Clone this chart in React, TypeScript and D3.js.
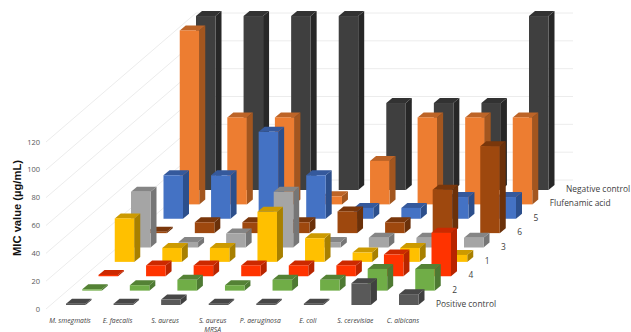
import React from "react";
import * as d3 from "d3";

const categories = ["M. smegmatis", "E. faecalis", "S. aureus", "S. aureus\nMRSA", "P. aeruginosa", "E. coli", "S. cerevisiae", "C. albicans"];
const seriesNames = ["Positive control", "2", "4", "1", "3", "6", "5", "Flufenamic acid", "Negative control"];
const yTicks = [0, 20, 40, 60, 80, 100, 120];

const positiveControl = [0.98, 0.98, 3.9, 0.98, 0.98, 0.98, 15.6, 7.8];
const compound2 = [0.98, 3.9, 7.8, 3.9, 7.8, 7.8, 15.6, 15.6];
const compound4 = [0.98, 7.8, 7.8, 7.8, 7.8, 7.8, 15.6, 31.25];
const compound1 = [31.25, 10, 10, 36, 17, 6.7, 10, 5];
const compound3 = [40, 4, 10, 40, 3.9, 7, 7, 7];
const compound6 = [0.98, 7.8, 7.8, 7.8, 15.6, 7.8, 31.25, 62.5];
const compound5 = [31.25, 31.25, 62.5, 31.25, 7.8, 7.8, 15.6, 15.6];
const flufenamicAcid = [125, 62.5, 62.5, 5.8, 31.25, 62.5, 62.5, 62.5];
const negativeControl = [125, 125, 125, 125, 62.5, 62.5, 62.5, 125];

const seriesValues = [positiveControl, compound2, compound4, compound1, compound3, compound6, compound5, flufenamicAcid, negativeControl];

// front, top and side face colours for each series
const frontColors = ["#595959", "#70ad47", "#ff3300", "#ffc000", "#a5a5a5", "#9e480e", "#4472c4", "#ed7d31", "#3f3f3f"];
const topColors = ["#474747", "#548235", "#cc2900", "#cc9a00", "#858585", "#7a370b", "#35599c", "#bd6427", "#323232"];
const sideColors = ["#404040", "#4e7a33", "#b82500", "#a88000", "#767676", "#6b310a", "#2c4f8c", "#a3561f", "#272727"];

const BAR_W = 19.5;
const DEPTH_X = 6;
const DEPTH_Y = 5;

const xCat = d3.scaleLinear().domain([0, 7]).range([0, 333]);
const rowX = d3.scaleLinear().domain([0, 8]).range([66, 196]);
const rowBase = d3.scaleLinear().domain([0, 8]).range([305, 190]);
const hScale = d3.scaleLinear().domain([0, 120]).range([0, 167]);

const wallX = d3.scaleLinear().domain([0, 1]).range([46, 196]);
const wallY0 = d3.scaleLinear().domain([0, 1]).range([309, 180]);
const wallRight = 573;

const pts = (p: number[][]) => p.map((q) => q.join(",")).join(" ");

function Bar({ row, cat }: { row: number; cat: number }) {
  const x = rowX(row) + xCat(cat);
  const base = rowBase(row);
  const top = base - hScale(seriesValues[row][cat]);
  const right = x + BAR_W;
  return (
    <g>
      <polygon
        points={pts([[right, base], [right + DEPTH_X, base - DEPTH_Y], [right + DEPTH_X, top - DEPTH_Y], [right, top]])}
        fill={sideColors[row]}
      />
      <polygon
        points={pts([[x, top], [right, top], [right + DEPTH_X, top - DEPTH_Y], [x + DEPTH_X, top - DEPTH_Y]])}
        fill={topColors[row]}
      />
      <rect x={x} y={top} width={BAR_W} height={base - top} fill={frontColors[row]} />
    </g>
  );
}

export default function App() {
  const rows = d3.range(seriesNames.length).reverse();
  return (
    <svg
      width={631}
      height={332}
      viewBox="0 0 631 332"
      style={{ position: "absolute", left: 0, top: 0, background: "#fff" }}
    >
      {/* gridlines on the side and back walls */}
      <g stroke="#ececec" strokeWidth={1} fill="none">
        {yTicks.map((t) => {
          const h = hScale(t);
          return (
            <polyline
              key={t}
              points={pts([[wallX(0), wallY0(0) - h], [wallX(1), wallY0(1) - h], [wallRight, wallY0(1) - h]])}
            />
          );
        })}
      </g>

      {/* value axis */}
      <g fontFamily="'Open Sans', sans-serif" fontSize={7.5} fill="#595959" textAnchor="end">
        {yTicks.map((t) => (
          <text key={t} x={40} y={wallY0(0) - hScale(t) + 2.5}>
            {t}
          </text>
        ))}
      </g>
      <text
        transform="translate(21,208) rotate(-90)"
        textAnchor="middle"
        fontFamily="'Liberation Sans', sans-serif"
        fontWeight="bold"
        fontSize={11.2}
        fill="#111"
      >
        MIC value (µg/mL)
      </text>

      {/* bars, painted from the back row forward */}
      {rows.map((r) => (
        <g key={seriesNames[r]}>
          {categories.map((_, c) => (
            <Bar key={c} row={r} cat={c} />
          ))}
        </g>
      ))}

      {/* category labels */}
      <g fontFamily="'Open Sans', sans-serif" fontStyle="italic" fontSize={6.8} fill="#404040" textAnchor="middle">
        {categories.map((name, c) =>
          name.split("\n").map((line, i) => (
            <text key={line} x={rowX(0) + xCat(c) + 4} y={323 + i * 8.5}>
              {line}
            </text>
          ))
        )}
      </g>

      {/* series labels along the right edge of the floor */}
      <g fontFamily="'Open Sans', sans-serif" fontSize={8.4} fill="#404040">
        {seriesNames.map((name, r) => (
          <text key={name} x={rowX(r) + xCat(7) + 37} y={rowBase(r) + 2}>
            {name}
          </text>
        ))}
      </g>
    </svg>
  );
}
